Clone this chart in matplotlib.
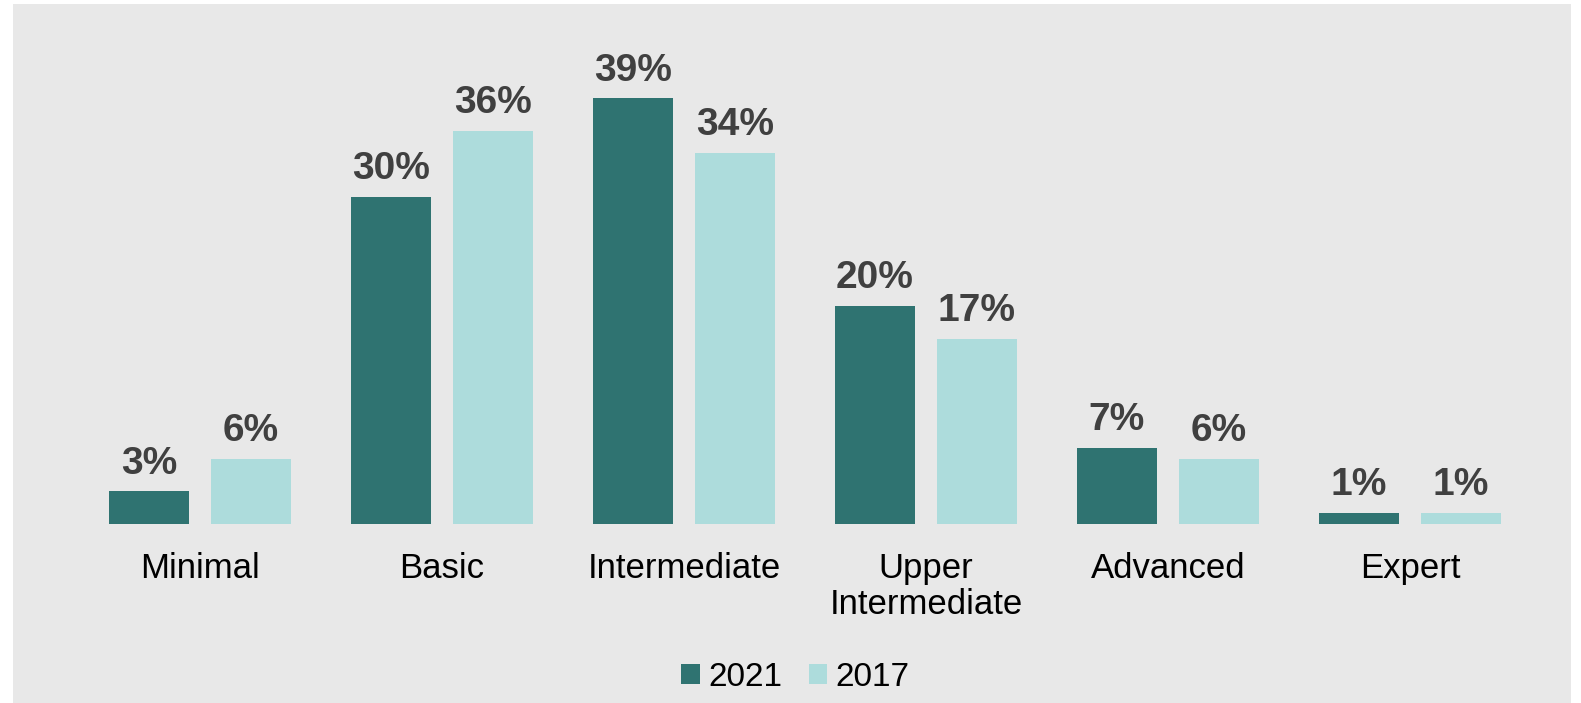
import matplotlib.pyplot as plt
import numpy as np
from matplotlib.patches import Rectangle

plt.rcParams['font.family'] = ['Liberation Sans', 'DejaVu Sans']

categories = ['Minimal', 'Basic', 'Intermediate', 'Upper\nIntermediate',
              'Advanced', 'Expert']
series_names = ['2021', '2017']
values_2021 = [3, 30, 39, 20, 7, 1]
values_2017 = [6, 36, 34, 17, 6, 1]

dark = '#2f7371'
light = '#addcdc'

fig = plt.figure(figsize=(15.81, 7.03), dpi=100, facecolor='white')
# grey panel behind everything
fig.patches.append(Rectangle((13 / 1581, 0), 1558 / 1581, 699 / 703,
                             transform=fig.transFigure, facecolor='#e8e8e8',
                             edgecolor='none', zorder=-10))

ax = fig.add_axes([79 / 1581, 179 / 703, 1452 / 1581, 491 / 703])
ax.set_facecolor('none')

x = np.arange(len(categories))
w = 80 / 242
off = 51 / 242
b1 = ax.bar(x - off, values_2021, w, color=dark, label=series_names[0])
b2 = ax.bar(x + off, values_2017, w, color=light, label=series_names[1])

for bars in (b1, b2):
    ax.bar_label(bars, labels=[f'{v}%' for v in bars.datavalues], padding=7,
                 fontsize=28, fontweight='bold', color='#404040')

ax.set_xlim(-0.5, 5.5)
ax.set_ylim(0, 45)
ax.set_xticks(x)
ax.set_xticklabels(categories, fontsize=25, linespacing=1.12)
ax.tick_params(axis='x', length=0, pad=20)
ax.set_yticks([])
for s in ax.spines.values():
    s.set_visible(False)

fig.legend(loc='center', bbox_to_anchor=(0.503, 0.036), ncol=2, frameon=False,
           fontsize=24, handlelength=0.55, handleheight=0.55, handletextpad=0.25,
           columnspacing=0.8)

fig.savefig('out.png', dpi=100, facecolor=fig.get_facecolor())
